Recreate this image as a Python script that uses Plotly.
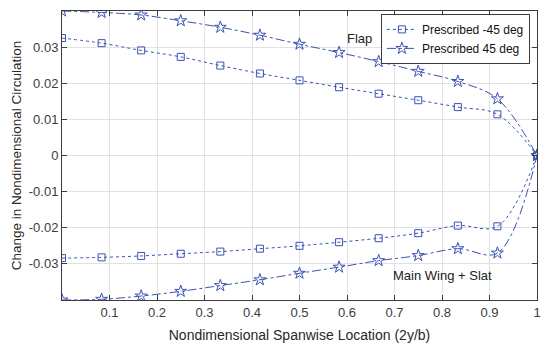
import plotly.graph_objects as go

x = [0, 1/12, 2/12, 3/12, 4/12, 5/12, 6/12, 7/12, 8/12, 9/12, 10/12, 11/12, 1]

flap_m45 = [0.0325, 0.0311, 0.0291, 0.0273, 0.0249, 0.0227, 0.0208, 0.0189, 0.0171, 0.0153, 0.0134, 0.0114, 0.0]
flap_p45 = [0.0400, 0.0396, 0.0389, 0.0373, 0.0355, 0.0333, 0.0308, 0.0285, 0.0260, 0.0233, 0.0205, 0.0157, 0.0]
main_m45 = [-0.0284, -0.0282, -0.0278, -0.0272, -0.0266, -0.0258, -0.0250, -0.0240, -0.0229, -0.0215, -0.0194, -0.0196, 0.0]
main_p45 = [-0.0400, -0.0398, -0.0389, -0.0376, -0.0360, -0.0344, -0.0326, -0.0309, -0.0291, -0.0277, -0.0258, -0.0270, 0.0]

xticks = [0.1, 0.2, 0.3, 0.4, 0.5, 0.6, 0.7, 0.8, 0.9, 1]
xticklabels = ["0.1", "0.2", "0.3", "0.4", "0.5", "0.6", "0.7", "0.8", "0.9", "1"]
yticks = [-0.03, -0.02, -0.01, 0, 0.01, 0.02, 0.03]
yticklabels = ["-0.03", "-0.02", "-0.01", "0", "0.01", "0.02", "0.03"]

color = "rgb(58,82,180)"
fontfam = "Liberation Sans, Arial, sans-serif"

fig = go.Figure()

def add(series, dash, symbol, size, name, show):
    fig.add_trace(go.Scatter(
        x=x, y=series, mode="lines+markers", name=name, showlegend=show,
        line=dict(color=color, dash=dash, width=1, shape="spline", smoothing=1.0),
        marker=dict(symbol=symbol, size=size, color=color, line=dict(color=color, width=1)),
        legendgroup=name,
    ))

add(flap_m45, "dot", "square-open", 7, "Prescribed -45 deg", True)
add(flap_p45, "dashdot", "star-open", 9, "Prescribed 45 deg", True)
add(main_m45, "dot", "square-open", 7, "Prescribed -45 deg", False)
add(main_p45, "dashdot", "star-open", 9, "Prescribed 45 deg", False)

fig.add_annotation(x=0.626, y=0.0325, text="Flap", showarrow=False,
                   font=dict(size=13, color="#222222", family=fontfam))
fig.add_annotation(x=0.80, y=-0.0331, text="Main Wing + Slat", showarrow=False,
                   font=dict(size=13, color="#222222", family=fontfam))

axis_common = dict(
    showgrid=True, gridcolor="rgb(225,225,225)", gridwidth=1,
    showline=True, linecolor="rgb(60,60,60)", linewidth=1, mirror="ticks",
    ticks="inside", ticklen=5, tickcolor="rgb(60,60,60)",
    zeroline=False, automargin=False,
    tickfont=dict(size=13, color="rgb(60,60,60)", family=fontfam),
)

fig.update_xaxes(range=[0, 1], tickvals=xticks, ticktext=xticklabels,
                 title=dict(text="Nondimensional Spanwise Location (2y/b)", standoff=11,
                            font=dict(size=14, color="rgb(40,40,40)", family=fontfam)),
                 **axis_common)
fig.update_yaxes(range=[-0.04, 0.04], tickvals=yticks, ticktext=yticklabels,
                 title=dict(text="Change in Nondimensional Circulation", standoff=4,
                            font=dict(size=13.5, color="rgb(40,40,40)", family=fontfam)),
                 **axis_common)

# page body has an 8px default margin, so margins are offset to compensate
fig.update_layout(
    width=550, height=350,
    margin=dict(l=54, r=21, t=3, b=58),
    plot_bgcolor="white", paper_bgcolor="white",
    font=dict(family=fontfam),
    legend=dict(x=0.985, y=0.99, xanchor="right", yanchor="top",
                bgcolor="white", bordercolor="rgb(60,60,60)", borderwidth=1,
                font=dict(size=12, color="#111111", family=fontfam),
                tracegroupgap=0, itemwidth=30),
    showlegend=True,
)

fig.write_html("out.html")
